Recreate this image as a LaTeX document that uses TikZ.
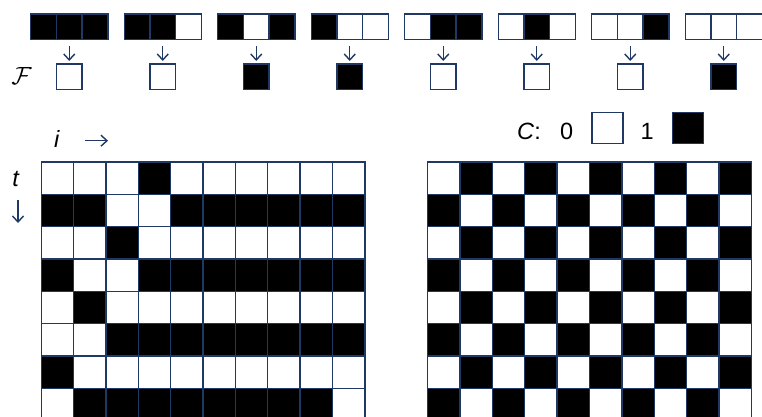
\documentclass[tikz,border=0pt]{standalone}
\usepackage{fontspec}
\setmainfont{Liberation Sans}
\usetikzlibrary{arrows.meta}
\definecolor{navy}{HTML}{1F3864}
\begin{document}
\begin{tikzpicture}[x=1pt,y=-1pt,
  box/.style={draw=navy, line width=1.4pt, inner sep=0pt, outer sep=0pt, anchor=north west},
  cell/.style={box, minimum width=32.35pt, minimum height=32.35pt},
  tcell/.style={box, minimum width=25.7pt, minimum height=25.7pt},
  lcell/.style={box, minimum width=31pt, minimum height=31pt},
  v0/.style={fill=white},
  v1/.style={fill=black},
  lbl/.style={inner sep=0pt, font=\fontsize{23.5}{27}\selectfont, text=black},
  arr/.style={draw=navy, line width=1.4pt, -{Straight Barb[length=6pt,width=11pt]}}
]
\clip (0,0) rectangle (762,417);
% top rule table
\foreach \p [count=\k from 0] in {{1,1,1},{1,1,0},{1,0,1},{1,0,0},{0,1,1},{0,1,0},{0,0,1},{0,0,0}}{
  \foreach \b [count=\j from 0] in \p {
    \node[tcell, v\b] (T\k-\j) at ({30.7+93.5*\k+25.7*\j},14) {};
  }
}
\foreach \o [count=\k from 0] in {0,0,1,1,0,0,0,1}{
  \node[tcell, v\o] (O\k) at ({56.4+93.5*\k},64) {};
  \draw[arr, shorten <=6.5pt, shorten >=3pt] (T\k-1.south) -- (O\k.north);
}
\node[lbl] (F) at (21.5,76) {$\mathcal{F}$};
% axis labels
\node[lbl, anchor=base] (ilab) at (57,147.3) {\textit{i}};
\coordinate (ia0) at (85,140.7);
\coordinate (ia1) at (108,140.7);
\draw[arr] (ia0) -- (ia1);
\node[lbl, anchor=base] (tlab) at (16,186.5) {\textit{t}};
\coordinate (ta0) at (18,200);
\coordinate (ta1) at (18,223);
\draw[arr] (ta0) -- (ta1);
% legend
\node[lbl, anchor=base west] (Clab) at (517,139.3) {\textit{C}:};
\node[lbl, anchor=base west] (zero) at (560,139.3) {0};
\node[lcell, v0] (lw) at (592,112.7) {};
\node[lbl, anchor=base west] (one) at (640.5,139.3) {1};
\node[lcell, v1] (lb) at (672.5,112.7) {};
% left grid
\foreach \row [count=\r from 0] in {
  {0,0,0,1,0,0,0,0,0,0},
  {1,1,0,0,1,1,1,1,1,1},
  {0,0,1,0,0,0,0,0,0,0},
  {1,0,0,1,1,1,1,1,1,1},
  {0,1,0,0,0,0,0,0,0,0},
  {0,0,1,1,1,1,1,1,1,1},
  {1,0,0,0,0,0,0,0,0,0},
  {0,1,1,1,1,1,1,1,1,0}}{
  \foreach \b [count=\c from 0] in \row {
    \node[cell, v\b] (L\r-\c) at ({41.3+32.35*\c},{162+32.35*\r}) {};
  }
}
% right grid (checkerboard)
\foreach \r in {0,...,7}{
  \foreach \c in {0,...,9}{
    \pgfmathtruncatemacro\v{mod(\r+\c,2)}
    \node[cell, v\v] (R\r-\c) at ({427.5+32.4*\c},{162+32.35*\r}) {};
  }
}
\end{tikzpicture}
\end{document}
